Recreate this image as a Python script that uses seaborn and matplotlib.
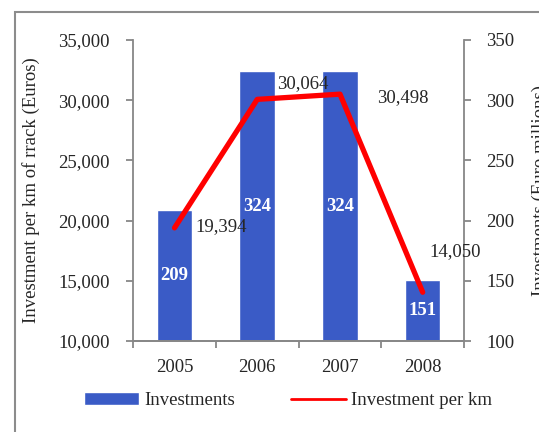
import matplotlib
matplotlib.use("Agg")
import matplotlib.pyplot as plt
from matplotlib.patches import Rectangle
import seaborn as sns
import numpy as np

years = ["2005", "2006", "2007", "2008"]
investments = [209, 324, 324, 151]            # Euro millions (right axis)
per_km = [19394, 30064, 30498, 14050]          # Euros per km of track (left axis)

sns.set_style("white")
plt.rcParams["font.family"] = ["Liberation Serif", "DejaVu Serif"]
plt.rcParams["font.size"] = 13.5

grey = "#878787"
blue = "#3A5BC6"

fig = plt.figure(figsize=(5.39, 4.32), dpi=100)
ax = fig.add_axes([0.247, 0.2106, 0.614, 0.697])
ax2 = ax.twinx()

# bars on the right scale
sns.barplot(x=years, y=investments, ax=ax2, color=blue, width=0.43,
            saturation=1, label="Investments")
ax2.set_ylim(100, 350)
ax2.set_yticks(np.arange(100, 351, 50))
for rect, v in zip(ax2.patches, investments):
    ax2.text(rect.get_x() + rect.get_width() / 2, (100 + v) / 2, str(v),
             ha="center", va="center", color="white", fontweight="bold",
             fontsize=13.5)

# line on the left scale, drawn above the bars
sns.lineplot(x=years, y=per_km, ax=ax, color="#FF0000", linewidth=3.8,
             label="Investment per km", sort=False)
ax.set_zorder(ax2.get_zorder() + 1)
ax.patch.set_visible(False)
ax.set_ylim(10000, 35000)
ax.set_yticks(np.arange(10000, 35001, 5000))
ax.set_yticklabels([f"{t:,}" for t in range(10000, 35001, 5000)])
ax.set_xlim(-0.5, 3.5)

offsets = [(21, 1), (20, 16), (37, -3), (7, 41)]
for i, (v, off) in enumerate(zip(per_km, offsets)):
    ax.annotate(f"{v:,}", (i, v), xytext=off, textcoords="offset pixels",
                ha="left", va="center", fontsize=13.5)

# spines and ticks
for a in (ax, ax2):
    for s in a.spines.values():
        s.set_color(grey)
        s.set_linewidth(1.3)
    a.spines["top"].set_visible(False)
ax.spines["right"].set_visible(False)
ax2.spines["left"].set_visible(False)
ax.tick_params(axis="y", direction="out", length=5, color=grey, width=1.3,
               pad=12, left=True)
ax2.tick_params(axis="y", direction="out", length=5, color=grey, width=1.3,
                pad=11, right=True)
ax.set_xticks(np.arange(-0.5, 3.6, 1), minor=True)
ax.tick_params(axis="x", which="minor", direction="out", length=5,
               color=grey, width=1.3, bottom=True)
ax.tick_params(axis="x", which="major", length=0, pad=13)
ax2.tick_params(axis="x", which="both", length=0)

ax.set_xlabel("")
ax2.set_xlabel("")
ax.set_ylabel("Investment per km of rrack (Euros)", fontsize=13.5)
ax.yaxis.set_label_coords(-0.28, 0.5)
ax2.set_ylabel("Investments (Euro millions)", fontsize=13.5)
ax2.yaxis.set_label_coords(1.205, 0.5)

# legend below
h1, l1 = ax2.get_legend_handles_labels()
h2, l2 = ax.get_legend_handles_labels()
for a in (ax, ax2):
    if a.get_legend():
        a.get_legend().remove()
leg = fig.legend(h1 + h2, l1 + l2, loc="center", ncol=2,
                 bbox_to_anchor=(0.535, 0.072), frameon=False,
                 handlelength=2.9, handletextpad=0.3, columnspacing=3.0,
                 fontsize=13.5)
for lh in leg.get_lines():
    lh.set_linewidth(2)

# outer chart frame
fig.patches.append(Rectangle((0.028, -0.1), 1.2, 1.073, transform=fig.transFigure,
                             fill=False, edgecolor="#8c8c8c", linewidth=1.5))

fig.savefig("out.png", dpi=100)
